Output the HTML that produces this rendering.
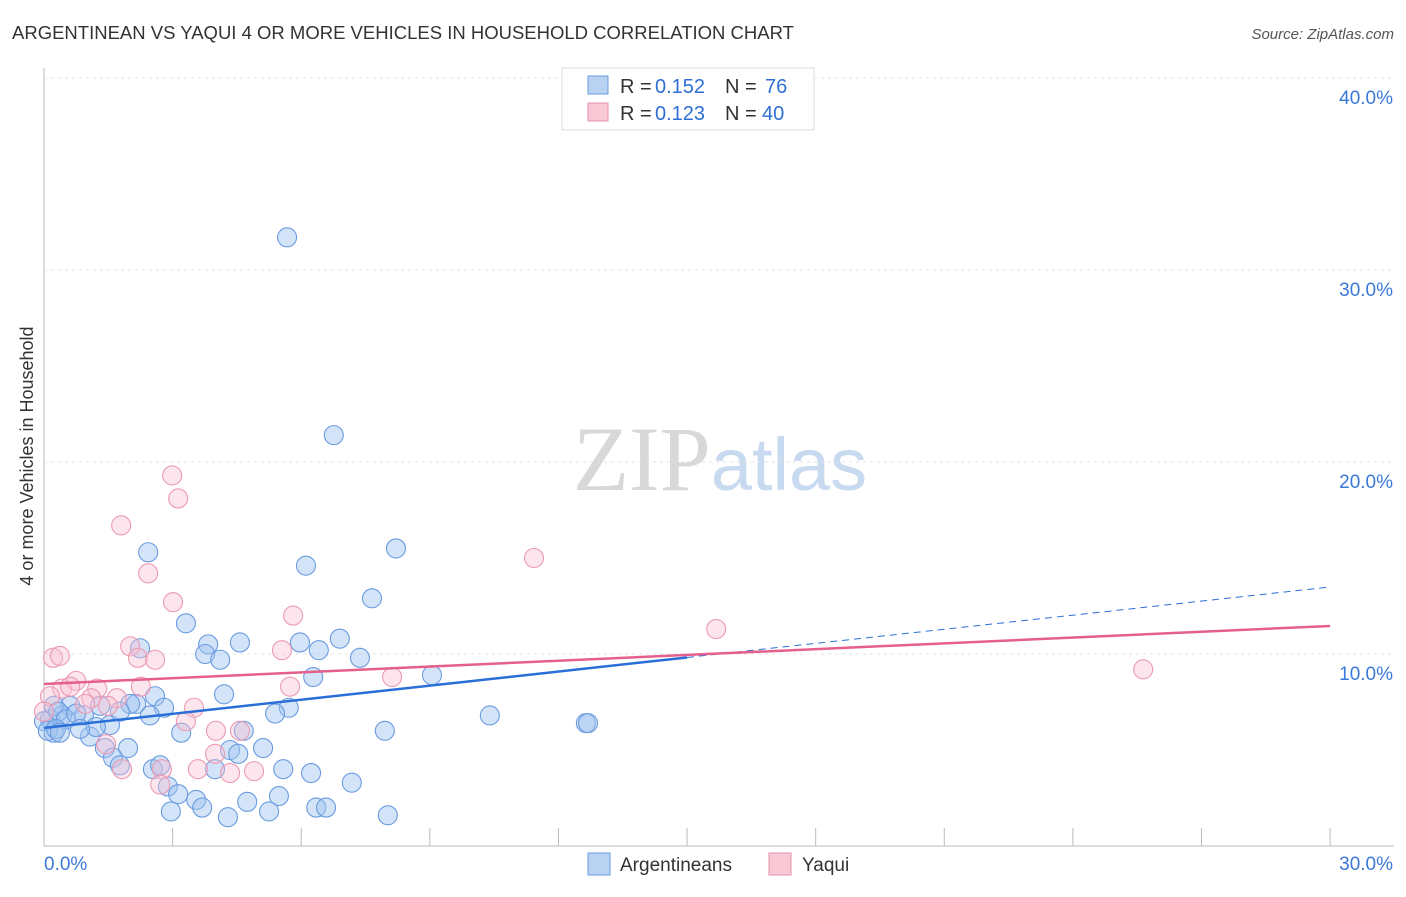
<!DOCTYPE html>
<html><head><meta charset="utf-8"><style>
body{margin:0;background:#fff;font-family:"Liberation Sans",sans-serif}
svg text{font-family:"Liberation Sans",sans-serif}
</style></head><body>
<svg id="c" width="1406" height="892">
<text x="12" y="39" font-size="18.5" fill="#333">ARGENTINEAN VS YAQUI 4 OR MORE VEHICLES IN HOUSEHOLD CORRELATION CHART</text>
<text x="1394" y="39" font-size="15" fill="#555" font-style="italic" text-anchor="end">Source: ZipAtlas.com</text>
<text x="33" y="456" font-size="18" fill="#333" text-anchor="middle" transform="rotate(-90 33 456)">4 or more Vehicles in Household</text>
<text x="720" y="490" font-size="92" fill="#ddd" text-anchor="middle" font-family="Liberation Serif"><tspan fill="#d8d8d8" font-family="Liberation Serif">ZIP</tspan><tspan fill="#c8daf0" font-size="74">atlas</tspan></text>
<g id="grid"></g><g id="pts"></g><g id="lines"></g>
<g>
<rect x="562" y="68" width="252" height="62" fill="#fff" stroke="#ddd"/>
<rect x="588" y="76" width="20" height="18" fill="#b8d2f2" stroke="#6a9ce0"/>
<text x="620" y="93" font-size="20" fill="#333">R =</text><text x="655" y="93" font-size="20" fill="#2f6fd6">0.152</text>
<text x="725" y="93" font-size="20" fill="#333">N =</text><text x="765" y="93" font-size="20" fill="#2f6fd6">76</text>
<rect x="588" y="103" width="20" height="18" fill="#f8c8d6" stroke="#e890aa"/>
<text x="620" y="120" font-size="20" fill="#333">R =</text><text x="655" y="120" font-size="20" fill="#2f6fd6">0.123</text>
<text x="725" y="120" font-size="20" fill="#333">N =</text><text x="762" y="120" font-size="20" fill="#2f6fd6">40</text>
</g>
<g>
<rect x="588" y="853" width="22" height="22" fill="#b8d2f2" stroke="#6a9ce0"/>
<text x="620" y="871" font-size="19" fill="#333">Argentineans</text>
<rect x="769" y="853" width="22" height="22" fill="#f8c8d6" stroke="#e890aa"/>
<text x="802" y="871" font-size="19" fill="#333">Yaqui</text>
</g>
</svg>
<script>
const blueX=[5.67,6.76,8.21,2.43,6.11,7.65,3.31,2.24,3.83,4.57,5.97,6.9,3.76,4.11,6.41,7.37,6.28,9.05,2.59,4.2,2.15,2.8,1.31,0.61,5.71,5.39,10.4,12.64,12.69,7.95,4.66,3.2,1.54,0.42,0.93,0.14,0.23,1.07,1.96,1.42,4.34,5.11,4.53,1.61,1.77,2.54,2.71,3.99,5.58,6.23,7.18,2.89,3.13,3.55,4.74,5.48,3.69,2.96,4.29,5.25,6.35,6.58,8.02,0.23,0,0.33,0.51,0.75,1.21,2.01,2.47,0.09,0.28,0.37,0.84,1.77];
const blueY=[31.7,21.4,15.5,15.3,14.6,12.9,11.6,10.3,10.5,10.6,10.6,10.8,10.0,9.7,10.2,9.8,8.8,8.9,7.8,7.9,7.4,7.2,7.3,7.3,7.2,6.9,6.8,6.4,6.4,6.0,6.0,5.9,6.3,6.8,6.8,6.6,5.9,5.7,5.1,5.1,5.0,5.1,4.8,4.6,4.2,4.0,4.2,4.0,4.0,3.8,3.3,3.1,2.7,2.4,2.3,2.6,2.0,1.8,1.5,1.8,2.0,2.0,1.6,7.3,6.5,7.0,6.6,6.9,6.2,7.4,6.8,6.0,6.1,5.9,6.1,7.0];
const pinkX=[2.99,3.13,1.8,2.43,11.43,3.01,5.81,15.68,2.01,0.21,0.37,2.19,2.59,5.55,25.64,8.12,5.74,0.75,0.42,0.61,1.24,2.26,1.1,1.7,0.96,3.5,1.49,3.31,4.01,4.57,3.99,1.45,4.9,3.59,4.34,1.82,2.75,2.71,0.14,0];
const pinkY=[19.3,18.1,16.7,14.2,15.0,12.7,12.0,11.3,10.4,9.8,9.9,9.8,9.7,10.2,9.2,8.8,8.3,8.6,8.2,8.3,8.2,8.3,7.7,7.7,7.4,7.2,7.3,6.5,6.0,6.0,4.8,5.3,3.9,4.0,3.8,4.0,4.0,3.2,7.8,7.0];
const yTicks=[10,20,30,40];
const xTickLabels=["0.0%","30.0%"];
const X=v=>44+v*42.87, Y=v=>846-v*19.2;
const NS="http://www.w3.org/2000/svg";
function mk(t,a,p){const e=document.createElementNS(NS,t);for(const k in a)e.setAttribute(k,a[k]);p.appendChild(e);return e;}
const g=document.getElementById('grid');
const ax=mk('line',{x1:44,y1:68,x2:44,y2:846,stroke:'#bbb'},g);


const bx=mk('line',{x1:44,y1:846,x2:1394,y2:846,stroke:'#bbb'},g);


yTicks.forEach(v=>{
 const l=mk('line',{x1:44,y1:Y(v),x2:1394,y2:Y(v),stroke:'#e2e2e2','stroke-dasharray':'3,4'},g);
 
 
 const t=mk('text',{x:1393,y:Y(v)+26,'font-size':19,fill:'#3b78d8','text-anchor':'end'},g);t.textContent=v.toFixed(1)+'%';
 
 
});
for(let i=1;i<=10;i++){const l=mk('line',{x1:X(i*3),y1:828,x2:X(i*3),y2:846,stroke:'#bbb'},g);
 
 }
[[0,'start',44],[30,'end',1393]].forEach((d,i)=>{const t=mk('text',{x:d[2],y:870,'font-size':19,fill:'#3b78d8','text-anchor':d[1]},g);t.textContent=xTickLabels[i];
 
 });
const p=document.getElementById('pts');
blueX.forEach((x,i)=>{const c=mk('circle',{cx:X(x),cy:Y(blueY[i]),r:9.5,fill:'rgba(160,196,240,0.45)',stroke:'#6a9be0','stroke-width':1.1},p);
 
 });
pinkX.forEach((x,i)=>{const c=mk('circle',{cx:X(x),cy:Y(pinkY[i]),r:9.5,fill:'rgba(248,190,210,0.4)',stroke:'#ec9ab4','stroke-width':1.1},p);
 
 });
const L=document.getElementById('lines');
const b0=6.15,b1=13.49,p0=8.44,p1=11.46;
const bs=mk('line',{x1:X(0),y1:Y(b0),x2:X(15),y2:Y(b0+(b1-b0)/2),stroke:'#2a6fd8','stroke-width':2.5},L);


const bd=mk('line',{x1:X(15),y1:Y(b0+(b1-b0)/2),x2:X(30),y2:Y(b1),stroke:'#2a6fd8','stroke-width':1,'stroke-dasharray':'7,5'},L);


const pl=mk('line',{x1:X(0),y1:Y(p0),x2:X(30),y2:Y(p1),stroke:'#e55f8c','stroke-width':2.5},L);


</script>
</body></html>
